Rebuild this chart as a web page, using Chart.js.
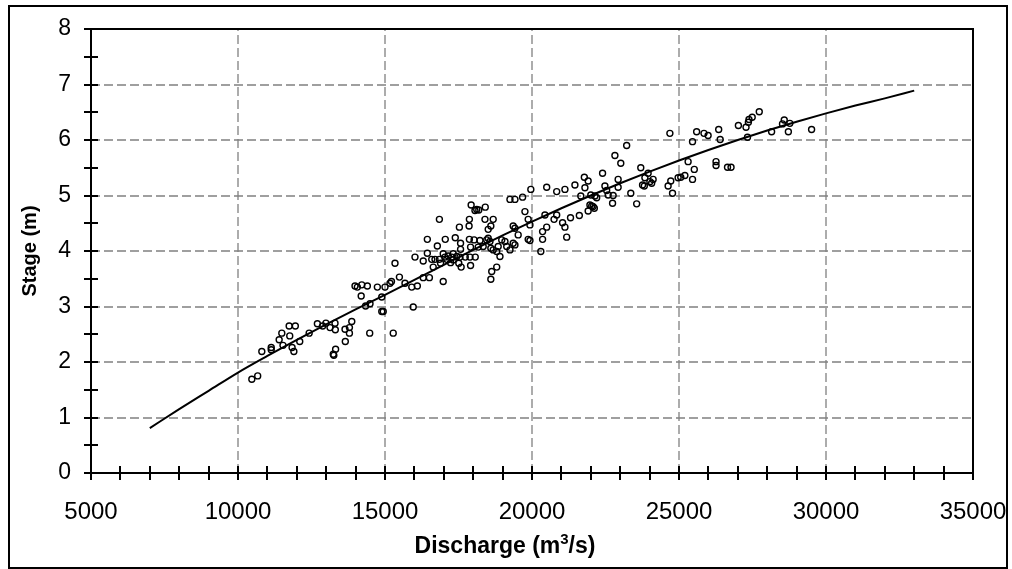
<!DOCTYPE html>
<html>
<head>
<meta charset="utf-8">
<script src="https://cdn.jsdelivr.net/npm/chart.js@4/dist/chart.umd.min.js"></script>
<style>
  body { margin: 0; background: #fff; }
  canvas { display: block; }
</style>
</head>
<body>
<canvas id="mycanvas" width="1012" height="569"></canvas>
<script>
// observed discharge / stage pairs
const obsDischarge = [
  10470, 10670, 10810, 11130, 11130, 11400, 11490, 11530, 11740, 11950,
  11760, 11840, 11900, 12100, 12420, 12700, 12880, 12990, 13130, 13300,
  13310, 13240, 13260, 13320, 13640, 13790, 13870, 13790, 13650, 13980,
  14060, 14210, 14400, 14190, 14340, 14490, 14480, 14740, 14890, 15000,
  15170, 14890, 14940, 15280, 15220, 15340, 15490, 15680, 15910, 16100,
  15960, 16020, 16300, 16510, 16300, 16440, 16440, 16590, 16700, 16850,
  16640, 16780, 16850, 16890, 16980, 16980, 17040, 17050, 17100, 17150,
  17270, 17320, 17230, 17320, 17390, 17440, 17550, 17530, 17510, 17590,
  17570, 17570, 17730, 17890, 18070, 17870, 17860, 17870, 17910, 17930,
  18060, 18120, 18190, 18410, 17910, 18030, 18170, 18230, 18340, 18400,
  18510, 18600, 18680, 18460, 18510, 18570, 18600, 18630, 18600, 18800,
  18680, 18800, 18910, 18850, 18970, 19080, 19140, 19250, 19250, 19420,
  19680, 19360, 19420, 19530, 19360, 19420, 19760, 19870, 19930, 19960,
  19870, 19930, 20300, 20360, 20360, 20500, 20440, 20500, 20750, 20840,
  20840, 21120, 21460, 21040, 21120, 21180, 21310, 21610, 21660, 21780,
  21800, 21910, 21910, 21970, 22030, 22080, 22120, 22140, 22000, 22200,
  22400, 22480, 22540, 22590, 22740, 22760, 22820, 23020, 22930, 22930,
  23220, 23360, 23560, 23700, 23760, 23820, 23840, 23950, 24010, 24070,
  24120, 24630, 24720, 24780, 24690, 24970, 25060, 25200, 25310, 25460,
  25520, 25460, 25600, 25850, 25990, 26260, 26260, 26350, 26400, 26650,
  26770, 27020, 27280, 27360, 27380, 27490, 27330, 27730, 28150, 28520,
  28580, 28770, 28720, 29510
];
const obsStage = [
  1.69, 1.75, 2.19, 2.26, 2.22, 2.40, 2.52, 2.30, 2.65, 2.65,
  2.47, 2.26, 2.19, 2.37, 2.52, 2.69, 2.65, 2.70, 2.62, 2.70,
  2.58, 2.14, 2.12, 2.23, 2.59, 2.62, 2.73, 2.52, 2.37, 3.37,
  3.35, 3.39, 3.37, 3.19, 3.01, 3.05, 2.52, 3.35, 3.17, 3.35,
  3.42, 2.91, 2.91, 2.52, 3.45, 3.78, 3.53, 3.42, 3.35, 3.37,
  2.99, 3.89, 3.52, 3.52, 3.82, 4.21, 3.96, 3.85, 3.85, 3.85,
  3.71, 4.09, 4.57, 3.78, 3.45, 3.95, 3.89, 4.21, 3.85, 3.91,
  3.89, 3.95, 3.79, 3.84, 4.24, 3.90, 3.89, 4.43, 3.78, 3.71,
  4.14, 4.03, 3.89, 3.89, 3.89, 4.57, 4.45, 4.21, 4.07, 4.83,
  4.73, 4.75, 4.74, 4.79, 3.74, 4.20, 4.07, 4.19, 4.08, 4.57,
  4.39, 4.45, 4.57, 4.20, 4.23, 4.17, 4.05, 3.63, 3.49, 3.71,
  4.02, 3.99, 3.90, 4.08, 4.20, 4.17, 4.08, 4.02, 4.93, 4.93,
  4.97, 4.45, 4.41, 4.29, 4.14, 4.11, 4.71, 4.57, 4.47, 5.11,
  4.21, 4.19, 3.99, 4.35, 4.21, 4.43, 4.65, 5.15, 4.57, 4.65,
  5.07, 5.11, 5.19, 4.51, 4.43, 4.25, 4.60, 4.64, 4.99, 5.33,
  5.14, 5.26, 4.72, 4.83, 4.81, 4.80, 4.77, 4.99, 5.01, 4.96,
  5.40, 5.17, 5.09, 5.01, 4.86, 5.00, 5.72, 5.58, 5.29, 5.15,
  5.90, 5.04, 4.85, 5.50, 5.19, 5.17, 5.32, 5.40, 5.25, 5.22,
  5.29, 5.17, 5.26, 5.04, 6.12, 5.32, 5.33, 5.36, 5.61, 5.29,
  5.47, 5.97, 6.15, 6.12, 6.08, 5.61, 5.54, 6.19, 6.01, 5.51,
  5.51, 6.26, 6.23, 6.32, 6.37, 6.41, 6.05, 6.51, 6.15, 6.29,
  6.36, 6.30, 6.15, 6.19
];

// rating curve
const curveDischarge = [
  7000, 8000, 9000, 10000, 11000, 12000, 13000, 14000, 15000, 16000,
  17000, 18000, 19000, 20000, 21000, 22000, 23000, 24000, 25000, 26000,
  27000, 28000, 29000, 30000, 31000, 32000, 33000
];
const curveStage = [
  0.81, 1.15, 1.48, 1.81, 2.11, 2.40, 2.68, 2.95, 3.21, 3.48,
  3.75, 4.02, 4.28, 4.53, 4.77, 5.00, 5.22, 5.43, 5.63, 5.82,
  6.00, 6.17, 6.33, 6.48, 6.62, 6.75, 6.89
];

const xLabelEvery = 5000;
const yLabelEvery = 1;

Chart.defaults.font.family = '"Liberation Sans", Arial, sans-serif';
Chart.defaults.color = "#000";

// frame, dashed grid, crossing ticks and the x title
const chartFrame = {
  id: "chartFrame",
  beforeDraw(chart) {
    let ctx = chart.ctx;
    ctx.save();
    ctx.fillStyle = "#fff";
    ctx.fillRect(0, 0, chart.width, chart.height);
    ctx.strokeStyle = "#000";
    ctx.lineWidth = 2;
    ctx.strokeRect(9, 6, 998, 562);
    ctx.restore();
  },
  beforeDatasetsDraw(chart) {
    let {ctx, chartArea: a, scales: {x, y}} = chart;
    ctx.save();
    ctx.strokeStyle = "#808080";
    ctx.lineWidth = 1.3;
    ctx.setLineDash([9, 4]);
    x.ticks.forEach(t => {
      if (t.value % xLabelEvery !== 0 || t.value === x.min || t.value === x.max) return;
      let px = Math.round(x.getPixelForValue(t.value));
      ctx.beginPath();
      ctx.moveTo(px, a.bottom);
      ctx.lineTo(px, a.top);
      ctx.stroke();
    });
    y.ticks.forEach(t => {
      if (t.value % yLabelEvery !== 0 || t.value === y.min || t.value === y.max) return;
      let py = Math.round(y.getPixelForValue(t.value));
      ctx.beginPath();
      ctx.moveTo(a.left, py);
      ctx.lineTo(a.right, py);
      ctx.stroke();
    });
    ctx.restore();
  },
  afterDatasetsDraw(chart) {
    let {ctx, chartArea: a, scales: {x, y}} = chart;
    ctx.save();
    ctx.strokeStyle = "#000";
    ctx.lineWidth = 2;
    ctx.strokeRect(a.left, a.top, a.right - a.left, a.bottom - a.top);
    ctx.beginPath();
    x.ticks.forEach(t => {
      let px = Math.round(x.getPixelForValue(t.value));
      ctx.moveTo(px, a.bottom - 7);
      ctx.lineTo(px, a.bottom + 7);
    });
    y.ticks.forEach(t => {
      let py = Math.round(y.getPixelForValue(t.value));
      ctx.moveTo(a.left - 7, py);
      ctx.lineTo(a.left + 7, py);
    });
    ctx.stroke();

    // x axis title with superscript
    let fam = '"Liberation Sans", Arial, sans-serif';
    let big = "bold 23px " + fam, small = "bold 15px " + fam;
    ctx.fillStyle = "#000";
    ctx.textBaseline = "alphabetic";
    ctx.textAlign = "left";
    ctx.font = big;
    let p1 = "Discharge (m", p3 = "/s)";
    let w1 = ctx.measureText(p1).width, w3 = ctx.measureText(p3).width;
    ctx.font = small;
    let w2 = ctx.measureText("3").width;
    let sx = 505 - (w1 + w2 + w3) / 2, base = 553;
    ctx.font = big;
    ctx.fillText(p1, sx, base);
    ctx.font = small;
    ctx.fillText("3", sx + w1, base - 9);
    ctx.font = big;
    ctx.fillText(p3, sx + w1 + w2, base);
    ctx.restore();
  }
};

// keep the plot box where the reference has it: no extra room for label overflow
function noOverflow(scale) {
  scale.paddingLeft = 0;
  scale.paddingRight = 0;
  scale.paddingTop = 0;
  scale.paddingBottom = 0;
}

let obsPoints = obsDischarge.map((q, i) => ({x: q, y: obsStage[i]}));
let curvePoints = curveDischarge.map((q, i) => ({x: q, y: curveStage[i]}));

let canvas = document.getElementById("mycanvas");
let ratingChart = new Chart(canvas, {
  type: "scatter",
  data: {
    datasets: [
      {
        label: "Rating curve",
        data: curvePoints,
        showLine: true,
        borderColor: "#000",
        borderWidth: 2,
        pointRadius: 0,
        cubicInterpolationMode: "monotone",
        fill: false,
      },
      {
        label: "Observed",
        data: obsPoints,
        pointStyle: "circle",
        pointRadius: 3,
        borderColor: "#000",
        borderWidth: 1.4,
        backgroundColor: "rgba(0,0,0,0)",
      },
    ],
  },
  options: {
    responsive: false,
    animation: false,
    devicePixelRatio: 1,
    layout: { padding: { left: 0, top: 29, right: 39, bottom: 0 } },
    plugins: {
      legend: { display: false },
      tooltip: { enabled: false },
    },
    scales: {
      x: {
        type: "linear",
        min: 5000,
        max: 35000,
        grid: { display: false, drawTicks: false },
        border: { display: false },
        ticks: {
          stepSize: 1000,
          maxTicksLimit: 100,
          autoSkip: false,
          maxRotation: 0,
          padding: 25,
          font: { size: 24 },
          color: "#000",
          callback: v => (v % xLabelEvery === 0 ? String(v) : ""),
        },
        afterFit: scale => { scale.height = 96; noOverflow(scale); },
      },
      y: {
        type: "linear",
        min: 0,
        max: 8,
        grid: { display: false, drawTicks: false },
        border: { display: false },
        ticks: {
          stepSize: 0.5,
          maxTicksLimit: 100,
          autoSkip: false,
          padding: 20,
          font: { size: 23 },
          color: "#000",
          callback: v => (v % yLabelEvery === 0 ? String(v) : ""),
        },
        title: {
          display: true,
          text: "Stage (m)",
          color: "#000",
          font: { size: 20, weight: "bold" },
          padding: { top: 18, bottom: 0 },
        },
        afterFit: scale => { scale.width = 91; noOverflow(scale); },
      },
    },
  },
  plugins: [chartFrame],
});
</script>
</body>
</html>
